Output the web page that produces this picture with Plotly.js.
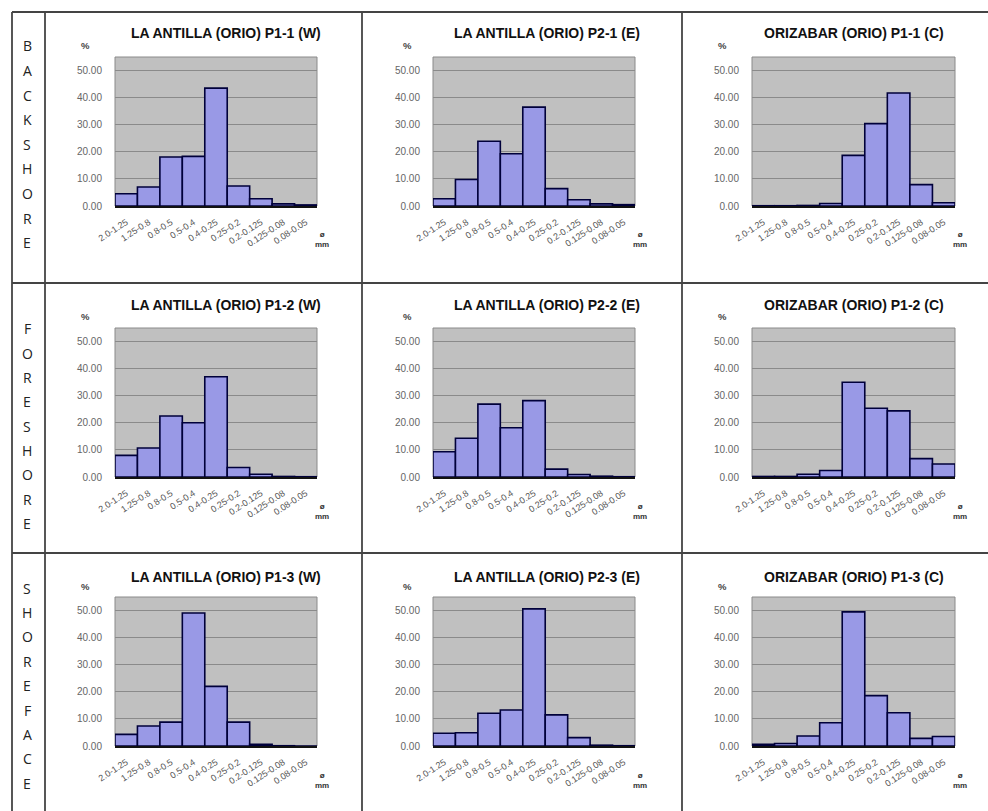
<!DOCTYPE html>
<html>
<head>
<meta charset="utf-8">
<script src="https://cdn.plot.ly/plotly-3.0.1.min.js"></script>
<style>
html,body{margin:0;padding:0;background:#fff;}
#chart{width:988px;height:811px;}
</style>
</head>
<body>
<div id="chart"></div>
<script>
// ---- DATA ----
const categories = ["2.0-1.25","1.25-0.8","0.8-0.5","0.5-0.4","0.4-0.25","0.25-0.2","0.2-0.125","0.125-0.08","0.08-0.05"];
const titles = [
  "LA ANTILLA (ORIO) P1-1 (W)", "LA ANTILLA (ORIO) P2-1 (E)", "ORIZABAR (ORIO) P1-1 (C)",
  "LA ANTILLA (ORIO) P1-2 (W)", "LA ANTILLA (ORIO) P2-2 (E)", "ORIZABAR (ORIO) P1-2 (C)",
  "LA ANTILLA (ORIO) P1-3 (W)", "LA ANTILLA (ORIO) P2-3 (E)", "ORIZABAR (ORIO) P1-3 (C)"
];
const rowLabels = ["BACKSHORE", "FORESHORE", "SHOREFACE"];
const yTicks = [0, 10, 20, 30, 40, 50];

const p1_1W = [4.5, 7.0, 18.1, 18.3, 43.5, 7.4, 2.7, 0.8, 0.4];
const p2_1E = [2.7, 9.8, 23.9, 19.3, 36.5, 6.4, 2.3, 0.8, 0.5];
const p1_1C = [0.1, 0.1, 0.2, 0.9, 18.7, 30.4, 41.7, 7.9, 1.2];
const p1_2W = [8.0, 10.7, 22.5, 20.0, 37.0, 3.5, 1.0, 0.2, 0.1];
const p2_2E = [9.3, 14.3, 26.9, 18.2, 28.2, 2.9, 0.9, 0.3, 0.1];
const p1_2C = [0.2, 0.2, 1.0, 2.4, 35.0, 25.4, 24.4, 6.8, 4.8];
const p1_3W = [4.3, 7.4, 8.8, 49.1, 22.0, 8.8, 0.6, 0.1, 0.0];
const p2_3E = [4.7, 4.9, 12.1, 13.3, 50.6, 11.5, 3.1, 0.3, 0.1];
const p1_3C = [0.6, 0.9, 3.7, 8.6, 49.5, 18.6, 12.3, 2.8, 3.5];

const series = [p1_1W, p2_1E, p1_1C, p1_2W, p2_2E, p1_2C, p1_3W, p2_3E, p1_3C];

// ---- LAYOUT GEOMETRY (pixels) ----
const W = 988, H = 811;
const colX = [[115, 317], [433, 635], [752, 955]];
const rowY = [[57, 206], [328, 477], [597, 746]];
const titleCX = [226, 547, 854];
const titleY = [33, 305, 577];
const px = v => v / W;
const py = v => 1 - v / H;

const FONT = "Liberation Sans, Arial, sans-serif";
const data = [];
const layout = {
  width: W, height: H,
  margin: {l: 0, r: 0, t: 0, b: 0},
  paper_bgcolor: "#ffffff",
  showlegend: false,
  bargap: 0,
  annotations: [],
  shapes: []
};

for (let i = 0; i < 9; i++) {
  const r = Math.floor(i / 3), c = i % 3;
  const n = i === 0 ? "" : String(i + 1);
  data.push({
    type: "bar",
    x: categories,
    y: series[i],
    xaxis: "x" + n,
    yaxis: "y" + n,
    width: 1,
    marker: {color: "#9999e6", line: {color: "#00003a", width: 1.6}},
    hoverinfo: "x+y"
  });
  layout["xaxis" + n] = {
    domain: [px(colX[c][0]), px(colX[c][1])],
    anchor: "y" + n,
    type: "category",
    range: [-0.5, 8.5],
    tickangle: -33,
    tickfont: {family: FONT, size: 9, color: "#555"},
    ticklabelstandoff: 6,
    showline: true, linecolor: "#111", linewidth: 1.6,
    showgrid: false, zeroline: false,
    ticks: "", fixedrange: true
  };
  layout["yaxis" + n] = {
    domain: [py(rowY[r][1]), py(rowY[r][0])],
    anchor: "x" + n,
    range: [0, 55],
    tickvals: yTicks,
    tickformat: ".2f",
    tickfont: {family: FONT, size: 10, color: "#666"},
    ticklabelstandoff: 12,
    showgrid: true, gridcolor: "#8a8a8a", gridwidth: 1,
    zeroline: false, showline: false, ticks: "", fixedrange: true
  };
  // plot area background + border
  layout.shapes.push({
    type: "rect", layer: "below",
    xref: "x" + n + " domain", yref: "y" + n + " domain",
    x0: 0, x1: 1, y0: 0, y1: 1,
    fillcolor: "#c0c0c0", line: {color: "#8a8a8a", width: 1}
  });
  // title
  layout.annotations.push({
    xref: "paper", yref: "paper",
    x: px(titleCX[c]), y: py(titleY[r]),
    xanchor: "center", yanchor: "middle",
    text: "<b>" + titles[i] + "</b>", showarrow: false,
    font: {family: FONT, size: 14, color: "#111"}
  });
  // % label
  layout.annotations.push({
    xref: "paper", yref: "paper",
    x: px(colX[c][0] - (c === 1 ? 26 : 30)), y: py(rowY[r][0] - 11),
    xanchor: "center", yanchor: "middle",
    text: "<b>%</b>", showarrow: false,
    font: {family: FONT, size: 9.5, color: "#444"}
  });
  // ø mm label
  layout.annotations.push({
    xref: "paper", yref: "paper",
    x: px(colX[c][1] + 5), y: py(rowY[r][1] + 34),
    xanchor: "center", yanchor: "middle",
    text: "<b>ø</b><br><b>mm</b>", showarrow: false,
    font: {family: FONT, size: 8, color: "#333333"}
  });
}

// row labels (vertical letters)
const letterStart = [46, 329, 588];
const letterStep = [24.6, 24.3, 24.4];
rowLabels.forEach((word, r) => {
  word.split("").forEach((ch, k) => {
    layout.annotations.push({
      xref: "paper", yref: "paper",
      x: px(27), y: py(letterStart[r] + k * letterStep[r]),
      xanchor: "center", yanchor: "middle",
      text: ch, showarrow: false,
      font: {family: "Open Sans, sans-serif", size: 14, color: "#222"}
    });
  });
});

// table lines
const lineStyle = {color: "#444", width: 1.8};
const hLines = [12, 283, 553];
hLines.forEach(y => layout.shapes.push({
  type: "line", xref: "paper", yref: "paper",
  x0: px(12), x1: 1, y0: py(y), y1: py(y), line: lineStyle
}));
const vLines = [12, 45, 362, 682];
vLines.forEach(x => layout.shapes.push({
  type: "line", xref: "paper", yref: "paper",
  x0: px(x), x1: px(x), y0: py(12), y1: 0, line: lineStyle
}));

Plotly.newPlot("chart", data, layout, {displayModeBar: false, staticPlot: true});
</script>
</body>
</html>
